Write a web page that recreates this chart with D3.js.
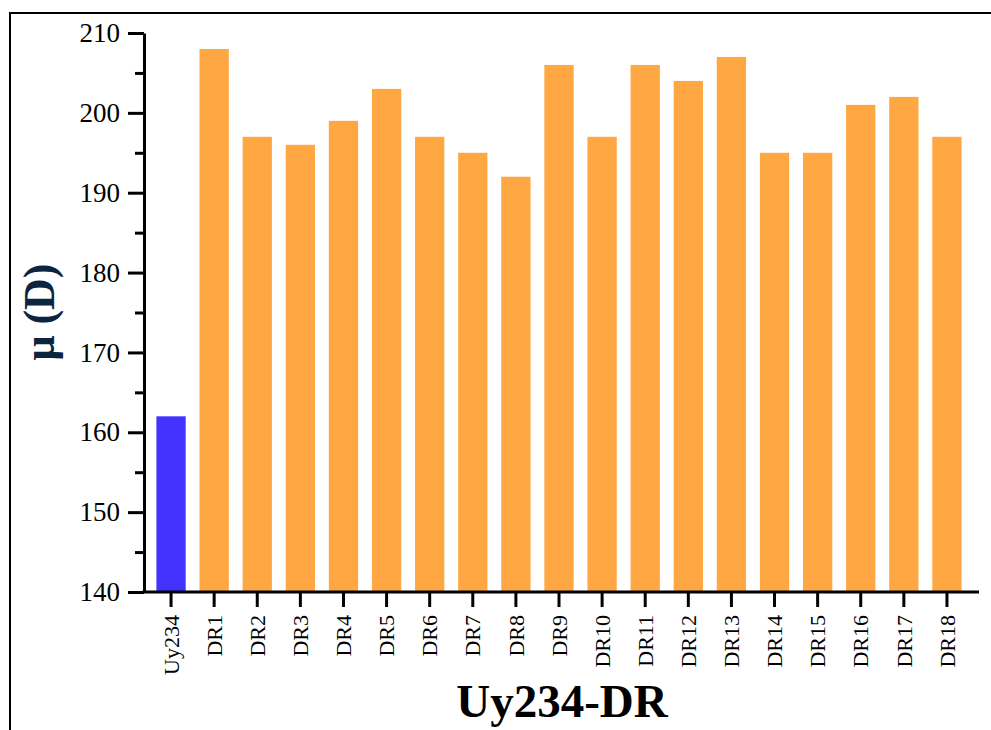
<!DOCTYPE html>
<html>
<head>
<meta charset="utf-8">
<script src="https://cdn.jsdelivr.net/npm/d3@7"></script>
<style>
  body { margin: 0; background: #fff; }
  svg text { font-family: "Liberation Serif", "DejaVu Serif", serif; }
</style>
</head>
<body>
<svg id="chart" width="991" height="730"></svg>
<script>
const categories = ["Uy234", "DR1", "DR2", "DR3", "DR4", "DR5", "DR6", "DR7", "DR8", "DR9",
  "DR10", "DR11", "DR12", "DR13", "DR14", "DR15", "DR16", "DR17", "DR18"];
const values = [162, 208, 197, 196, 199, 203, 197, 195, 192, 206,
  197, 206, 204, 207, 195, 195, 201, 202, 197];
const majorTicks = [140, 150, 160, 170, 180, 190, 200, 210];
const minorTicks = [145, 155, 165, 175, 185, 195, 205];

const svg = d3.select("#chart");

// frame
svg.append("path")
  .attr("d", "M10,730 L10,13 L991,13")
  .attr("fill", "none")
  .attr("stroke", "#000")
  .attr("stroke-width", 2);

const axisX = 144;
const y = d3.scaleLinear().domain([140, 210]).range([592, 33]);
const x = d3.scaleBand()
  .domain(categories)
  .range([149.5, 968.5])
  .paddingInner(0.32)
  .paddingOuter(0.16);

svg.selectAll(".bar")
  .data(categories)
  .enter().append("rect")
  .attr("class", "bar")
  .attr("x", d => x(d))
  .attr("width", x.bandwidth())
  .attr("y", (d, i) => y(values[i]))
  .attr("height", (d, i) => y(140) - y(values[i]))
  .attr("fill", (d, i) => i === 0 ? "#4433ff" : "#ffa843");

// y axis
const yAxis = svg.append("g")
  .attr("transform", `translate(${axisX},0)`)
  .call(d3.axisLeft(y).tickValues(majorTicks).tickSize(16).tickSizeOuter(0).tickPadding(8));
yAxis.select(".domain").attr("stroke-width", 3);
yAxis.selectAll(".tick line").attr("stroke-width", 3);
yAxis.selectAll(".tick text").attr("font-size", 27).attr("fill", "#000");

const yMinor = svg.append("g")
  .attr("transform", `translate(${axisX},0)`)
  .call(d3.axisLeft(y).tickValues(minorTicks).tickSize(9).tickFormat(""));
yMinor.select(".domain").remove();
yMinor.selectAll(".tick line").attr("stroke-width", 3);

// x axis
const xAxis = svg.append("g")
  .attr("transform", `translate(0,${y(140)})`)
  .call(d3.axisBottom(x).tickSize(15).tickSizeOuter(0));
xAxis.select(".domain").remove();
xAxis.selectAll(".tick line").attr("stroke-width", 3);
xAxis.selectAll(".tick text")
  .attr("font-size", 22)
  .attr("fill", "#000")
  .attr("text-anchor", "end")
  .attr("transform", "rotate(-90)")
  .attr("x", -23)
  .attr("y", 0)
  .attr("dy", "0.35em");

svg.append("line")
  .attr("x1", axisX - 1.5).attr("x2", 979)
  .attr("y1", y(140)).attr("y2", y(140))
  .attr("stroke", "#000")
  .attr("stroke-width", 3);

// titles
svg.append("text")
  .attr("transform", "translate(54,312) rotate(-90)")
  .attr("text-anchor", "middle")
  .attr("font-size", 44)
  .attr("font-weight", "bold")
  .attr("fill", "#0b2540")
  .text("μ (D)");

svg.append("text")
  .attr("x", 562)
  .attr("y", 717)
  .attr("text-anchor", "middle")
  .attr("font-size", 47)
  .attr("font-weight", "bold")
  .attr("fill", "#000")
  .text("Uy234-DR");
</script>
</body>
</html>
